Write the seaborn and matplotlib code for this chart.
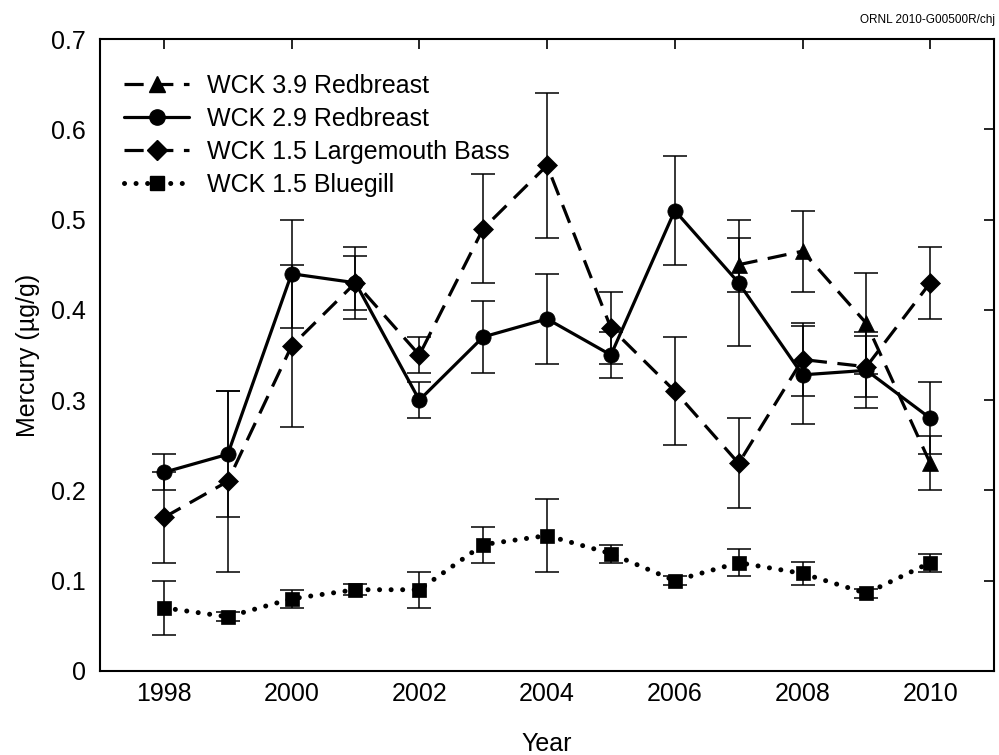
import matplotlib
matplotlib.use("Agg")
import matplotlib.pyplot as plt
import seaborn as sns
import numpy as np
import pandas as pd
from matplotlib.lines import Line2D

# ---------------- data ----------------
years_all = [1998, 1999, 2000, 2001, 2002, 2003, 2004, 2005, 2006, 2007, 2008, 2009, 2010]
years_rb39 = [2007, 2008, 2009, 2010]

rb39 = [0.45, 0.465, 0.385, 0.23]
rb39_err = [0.03, 0.045, 0.056, 0.03]

rb29 = [0.22, 0.24, 0.44, 0.43, 0.30, 0.37, 0.39, 0.35, 0.51, 0.43, 0.328, 0.333, 0.28]
rb29_err = [0.02, 0.07, 0.06, 0.04, 0.02, 0.04, 0.05, 0.025, 0.06, 0.07, 0.054, 0.042, 0.04]

lmb = [0.17, 0.21, 0.36, 0.43, 0.35, 0.49, 0.56, 0.38, 0.31, 0.23, 0.345, 0.337, 0.43]
lmb_err = [0.05, 0.10, 0.09, 0.03, 0.02, 0.06, 0.08, 0.04, 0.06, 0.05, 0.04, 0.034, 0.04]

bg = [0.07, 0.06, 0.08, 0.09, 0.09, 0.14, 0.15, 0.13, 0.10, 0.12, 0.108, 0.086, 0.12]
bg_err = [0.03, 0.005, 0.01, 0.006, 0.02, 0.02, 0.04, 0.01, 0.005, 0.015, 0.013, 0.005, 0.01]

labels = ["WCK 3.9 Redbreast", "WCK 2.9 Redbreast", "WCK 1.5 Largemouth Bass", "WCK 1.5 Bluegill"]
x_ticks = [1998, 2000, 2002, 2004, 2006, 2008, 2010]
y_ticks = [0, 0.1, 0.2, 0.3, 0.4, 0.5, 0.6, 0.7]
y_ticklabels = ["0", "0.1", "0.2", "0.3", "0.4", "0.5", "0.6", "0.7"]

# ---------------- style ----------------
sns.set_theme(style="white")
plt.rcParams["font.family"] = ["Liberation Sans", "DejaVu Sans"]
plt.rcParams["text.color"] = "black"
plt.rcParams["axes.labelcolor"] = "black"
plt.rcParams["xtick.color"] = "black"
plt.rcParams["ytick.color"] = "black"
FS = 18

fig = plt.figure(figsize=(9.99, 7.55), dpi=100)
ax = fig.add_axes([0.1001, 0.1113, 0.895, 0.837])

dash = (0, (6, 3.3))
dot = (0, (0.01, 2.3))

series = [
    (years_rb39, rb39, rb39_err, labels[0], "^", 11, dash, 2.3),
    (years_all, rb29, rb29_err, labels[1], "o", 11, "-", 2.3),
    (years_all, lmb, lmb_err, labels[2], "D", 10, dash, 2.3),
    (years_all, bg, bg_err, labels[3], "s", 10, dot, 3.6),
]

handles = []
for xs, ys, es, lab, mk, ms, ls, lw in series:
    ax.errorbar(xs, ys, yerr=es, fmt="none", ecolor="black", elinewidth=1.1,
                capsize=8.5, capthick=1.1, zorder=2)
    df = pd.DataFrame({"Year": xs, "Hg": ys})
    sns.lineplot(data=df, x="Year", y="Hg", ax=ax, color="black", marker=mk,
                 markersize=ms, markeredgecolor="black", markerfacecolor="black",
                 markeredgewidth=0.5, linestyle=ls, linewidth=lw, zorder=3,
                 legend=False)
    line = ax.lines[-1]
    if ls is dot:
        line.set_dash_capstyle("round")
    h = Line2D([], [], color="black", marker=mk, markersize=ms, linestyle=ls,
               linewidth=lw, markerfacecolor="black", markeredgecolor="black")
    if ls is dot:
        h.set_dash_capstyle("round")
    handles.append(h)

ax.set_xlim(1997, 2011)
ax.set_ylim(0, 0.7)
ax.set_xticks(x_ticks)
ax.set_xticklabels([str(v) for v in x_ticks])
ax.set_yticks(y_ticks)
ax.set_yticklabels(y_ticklabels)
ax.tick_params(direction="in", top=True, right=True, length=7, width=1.2,
               labelsize=FS, colors="black")
ax.tick_params(axis="x", pad=8)
ax.tick_params(axis="y", pad=10)
for sp in ax.spines.values():
    sp.set_color("black")
    sp.set_linewidth(1.5)

ax.set_xlabel("Year", fontsize=FS, labelpad=19, color="black")
ax.set_ylabel("Mercury (µg/g)", fontsize=FS, labelpad=8, color="black")

leg = ax.legend(handles, labels, loc="upper left", frameon=False, fontsize=FS,
                handlelength=2.6, handletextpad=0.72, labelspacing=0.36,
                borderaxespad=0.0, bbox_to_anchor=(0.016, 0.961))
for t in leg.get_texts():
    t.set_color("black")

fig.text(0.996, 0.982, "ORNL 2010-G00500R/chj", ha="right", va="top", fontsize=8.5,
         color="black")

fig.savefig("out.png", dpi=100)
